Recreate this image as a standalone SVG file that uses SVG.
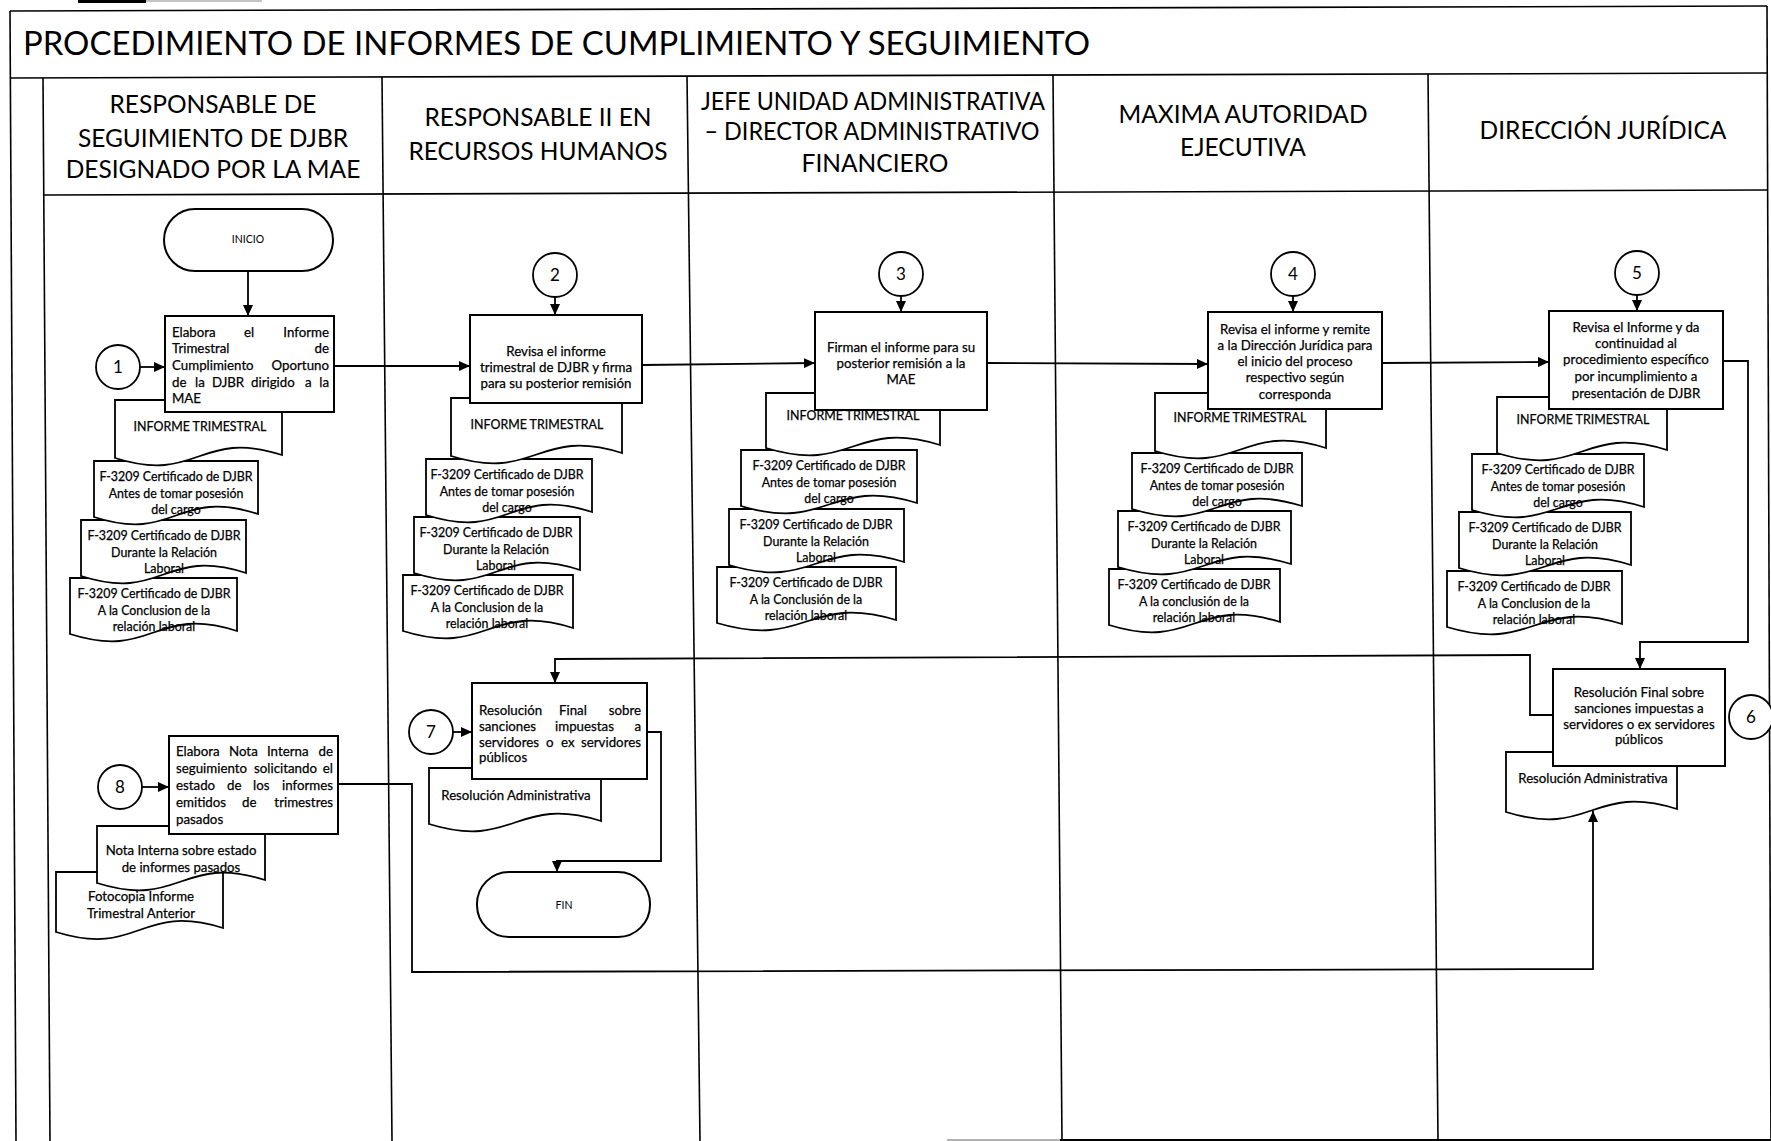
<svg xmlns="http://www.w3.org/2000/svg" width="1771" height="1141" viewBox="0 0 1771 1141">
<defs>
<marker id="ah" markerUnits="userSpaceOnUse" markerWidth="11" markerHeight="10" refX="11" refY="5" orient="auto">
<path d="M0,0 L11,5 L0,10 Z" fill="#000"/>
</marker>
</defs>
<style>
.t{font-family:Lato,"Liberation Sans",sans-serif;fill:#000}
.s{font-size:12.4px;stroke:#000;stroke-width:0.25}
.b{font-size:13.3px;stroke:#000;stroke-width:0.25}
.d{font-size:13.2px;stroke:#000;stroke-width:0.25}
.m{text-anchor:middle}
.e{text-anchor:end}
.hd{font-size:24.5px;text-anchor:middle}
.num{font-size:17px;text-anchor:middle}
.box{fill:#fff;stroke:#000;stroke-width:2}
.doc{fill:#fff;stroke:#000;stroke-width:1.8}
.circ{fill:#fff;stroke:#000;stroke-width:1.8}
.lane{stroke:#000;stroke-width:1.6;fill:none}
.con{fill:none;stroke:#000;stroke-width:1.8;marker-end:url(#ah)}
</style>
<rect width="1771" height="1141" fill="#fff"/>

<!-- frame, title row, lane headers and lane dividers -->
<g id="frame">
<line x1="78" y1="1.5" x2="146" y2="1.5" stroke="#000" stroke-width="3"/>
<line x1="146" y1="1" x2="262" y2="1" stroke="#888" stroke-width="1"/>
<line class="lane" x1="10" y1="11" x2="1767" y2="6"/>
<line class="lane" x1="10" y1="78" x2="1767" y2="73"/>
<line class="lane" x1="44" y1="195" x2="1767" y2="190"/>
<line class="lane" x1="10" y1="11" x2="16" y2="1141"/>
<line class="lane" x1="1767" y1="6" x2="1771" y2="1141"/>
<line class="lane" x1="43" y1="78" x2="50" y2="1141"/>
<line class="lane" x1="382" y1="77" x2="392" y2="1141"/>
<line class="lane" x1="687" y1="76" x2="700" y2="1141"/>
<line class="lane" x1="1053" y1="75" x2="1062" y2="1141"/>
<line class="lane" x1="1428" y1="74" x2="1438" y2="1141"/>
<line x1="947" y1="1140" x2="1060" y2="1140" stroke="#999" stroke-width="1.5"/>
<line x1="1060" y1="1140" x2="1771" y2="1140" stroke="#000" stroke-width="2"/>
<text class="t" x="23" y="55" font-size="32" textLength="1067" lengthAdjust="spacingAndGlyphs">PROCEDIMIENTO DE INFORMES DE CUMPLIMIENTO Y SEGUIMIENTO</text>
<text class="t hd" x="213" y="113">RESPONSABLE DE</text>
<text class="t hd" x="213" y="147">SEGUIMIENTO DE DJBR</text>
<text class="t hd" x="213" y="178">DESIGNADO POR LA MAE</text>
<text class="t hd" x="538" y="126">RESPONSABLE II EN</text>
<text class="t hd" x="538" y="160">RECURSOS HUMANOS</text>
<text class="t hd" x="873" y="110" textLength="344" lengthAdjust="spacingAndGlyphs">JEFE UNIDAD ADMINISTRATIVA</text>
<text class="t hd" x="872" y="140" textLength="335" lengthAdjust="spacingAndGlyphs">– DIRECTOR ADMINISTRATIVO</text>
<text class="t hd" x="875" y="172">FINANCIERO</text>
<text class="t hd" x="1243" y="123">MAXIMA AUTORIDAD</text>
<text class="t hd" x="1243" y="156">EJECUTIVA</text>
<text class="t hd" x="1603" y="139">DIRECCIÓN JURÍDICA</text>
</g>

<!-- lane 1 -->
<g id="inicio">
<rect class="box" x="164" y="209" width="169" height="62" rx="31"/>
<text class="t m" x="248" y="243" font-size="10.5">INICIO</text>
</g>
<g id="c1"><circle class="circ" cx="118" cy="367" r="22"/><text class="t num" x="118" y="373">1</text></g>
<g id="doc-1c">
<path class="doc" d="M70,578 H237 V631 C153.5,604.5 153.5,660.5 70,634 Z"/>
<text class="t s m" x="154" y="598">F-3209 Certificado de DJBR</text>
<text class="t s m" x="154" y="615">A la Conclusion de la</text>
<text class="t s m" x="154" y="631">relación laboral</text>
</g>
<g id="doc-1b">
<path class="doc" d="M81,520 H246 V573 C163.5,546.5 163.5,602.5 81,576 Z"/>
<text class="t s m" x="164" y="540">F-3209 Certificado de DJBR</text>
<text class="t s m" x="164" y="557">Durante la Relación</text>
<text class="t s m" x="164" y="573">Laboral</text>
</g>
<g id="doc-1a">
<path class="doc" d="M94,461 H258 V514 C176,487.5 176,543.5 94,517 Z"/>
<text class="t s m" x="176" y="481">F-3209 Certificado de DJBR</text>
<text class="t s m" x="176" y="498">Antes de tomar posesión</text>
<text class="t s m" x="176" y="514">del cargo</text>
</g>
<g id="doc-1">
<path class="doc" d="M115,400 H282 V455 C198.5,428.5 198.5,484.5 115,458 Z"/>
<text class="t s m" x="200" y="431">INFORME TRIMESTRAL</text>
</g>
<g id="p1">
<rect class="box" x="165" y="316" width="169" height="96"/>
<text class="t b" x="172" y="337">Elabora</text><text class="t b m" x="249" y="337">el</text><text class="t b e" x="329" y="337">Informe</text>
<text class="t b" x="172" y="353">Trimestral</text><text class="t b e" x="329" y="353">de</text>
<text class="t b" x="172" y="370">Cumplimiento</text><text class="t b e" x="329" y="370">Oportuno</text>
<text class="t b" x="172" y="387">de</text><text class="t b" x="195" y="387">la</text><text class="t b" x="212" y="387">DJBR</text><text class="t b" x="251" y="387">dirigido</text><text class="t b" x="305" y="387">a</text><text class="t b e" x="329" y="387">la</text>
<text class="t b" x="172" y="403">MAE</text>
</g>
<g id="c8"><circle class="circ" cx="120" cy="787" r="22"/><text class="t num" x="120" y="793">8</text></g>
<g id="doc-8b">
<path class="doc" d="M56,872 H223 V928 C139.5,902 139.5,958 56,932 Z"/>
<text class="t d m" x="141" y="901">Fotocopia Informe</text>
<text class="t d m" x="141" y="918">Trimestral Anterior</text>
</g>
<g id="doc-8a">
<path class="doc" d="M97,826 H265 V880 C181,853.5 181,909.5 97,883 Z"/>
<text class="t d m" x="181" y="855">Nota Interna sobre estado</text>
<text class="t d m" x="181" y="872">de informes pasados</text>
</g>
<g id="p8">
<rect class="box" x="169" y="736" width="169" height="98"/>
<text class="t b" x="176" y="756">Elabora</text><text class="t b" x="229" y="756">Nota</text><text class="t b" x="267" y="756">Interna</text><text class="t b e" x="333" y="756">de</text>
<text class="t b" x="176" y="773">seguimiento</text><text class="t b" x="254" y="773">solicitando</text><text class="t b e" x="333" y="773">el</text>
<text class="t b" x="176" y="790">estado</text><text class="t b" x="227" y="790">de</text><text class="t b" x="253" y="790">los</text><text class="t b e" x="333" y="790">informes</text>
<text class="t b" x="176" y="807">emitidos</text><text class="t b" x="242" y="807">de</text><text class="t b e" x="333" y="807">trimestres</text>
<text class="t b" x="176" y="824">pasados</text>
</g>

<!-- lane 2 -->
<g id="c2"><circle class="circ" cx="555" cy="275" r="22"/><text class="t num" x="555" y="281">2</text></g>
<g id="doc-2c">
<path class="doc" d="M403,575 H573 V628 C488,601.5 488,657.5 403,631 Z"/>
<text class="t s m" x="487" y="595">F-3209 Certificado de DJBR</text>
<text class="t s m" x="487" y="612">A la Conclusion de la</text>
<text class="t s m" x="487" y="628">relación laboral</text>
</g>
<g id="doc-2b">
<path class="doc" d="M414,517 H580 V570 C497,543.5 497,599.5 414,573 Z"/>
<text class="t s m" x="496" y="537">F-3209 Certificado de DJBR</text>
<text class="t s m" x="496" y="554">Durante la Relación</text>
<text class="t s m" x="496" y="570">Laboral</text>
</g>
<g id="doc-2a">
<path class="doc" d="M426,459 H592 V512 C509,485.5 509,541.5 426,515 Z"/>
<text class="t s m" x="507" y="479">F-3209 Certificado de DJBR</text>
<text class="t s m" x="507" y="496">Antes de tomar posesión</text>
<text class="t s m" x="507" y="512">del cargo</text>
</g>
<g id="doc-2">
<path class="doc" d="M451,398 H622 V453 C536.5,426.5 536.5,482.5 451,456 Z"/>
<text class="t s m" x="537" y="429">INFORME TRIMESTRAL</text>
</g>
<g id="p2">
<rect class="box" x="470" y="315" width="172" height="88"/>
<text class="t b m" x="556" y="356">Revisa el informe</text>
<text class="t b m" x="556" y="372">trimestral de DJBR y firma</text>
<text class="t b m" x="556" y="388">para su posterior remisión</text>
</g>
<g id="c7"><circle class="circ" cx="431" cy="732" r="22"/><text class="t num" x="431" y="738">7</text></g>
<g id="doc-7">
<path class="doc" d="M429,768 H601 V821 C515,794.5 515,850.5 429,824 Z"/>
<text class="t d m" x="516" y="800">Resolución Administrativa</text>
</g>
<g id="p7">
<rect class="box" x="472" y="683" width="175" height="96"/>
<text class="t b" x="479" y="715">Resolución</text><text class="t b" x="559" y="715">Final</text><text class="t b e" x="641" y="715">sobre</text>
<text class="t b" x="479" y="731">sanciones</text><text class="t b" x="555" y="731">impuestas</text><text class="t b e" x="641" y="731">a</text>
<text class="t b" x="479" y="747">servidores</text><text class="t b" x="546" y="747">o</text><text class="t b" x="561" y="747">ex</text><text class="t b e" x="641" y="747">servidores</text>
<text class="t b" x="479" y="762">públicos</text>
</g>
<g id="fin">
<rect class="box" x="477" y="872" width="173" height="65" rx="32"/>
<text class="t m" x="564" y="909" font-size="10.5">FIN</text>
</g>

<!-- lane 3 -->
<g id="c3"><circle class="circ" cx="901" cy="274" r="22"/><text class="t num" x="901" y="280">3</text></g>
<g id="doc-3c">
<path class="doc" d="M717,567 H896 V620 C806.5,593.5 806.5,649.5 717,623 Z"/>
<text class="t s m" x="806" y="587">F-3209 Certificado de DJBR</text>
<text class="t s m" x="806" y="604">A la Conclusión de la</text>
<text class="t s m" x="806" y="620">relación laboral</text>
</g>
<g id="doc-3b">
<path class="doc" d="M729,509 H904 V562 C816.5,535.5 816.5,591.5 729,565 Z"/>
<text class="t s m" x="816" y="529">F-3209 Certificado de DJBR</text>
<text class="t s m" x="816" y="546">Durante la Relación</text>
<text class="t s m" x="816" y="562">Laboral</text>
</g>
<g id="doc-3a">
<path class="doc" d="M741,450 H917 V503 C829,476.5 829,532.5 741,506 Z"/>
<text class="t s m" x="829" y="470">F-3209 Certificado de DJBR</text>
<text class="t s m" x="829" y="487">Antes de tomar posesión</text>
<text class="t s m" x="829" y="503">del cargo</text>
</g>
<g id="doc-3">
<path class="doc" d="M766,393 H940 V445 C853,418.5 853,474.5 766,448 Z"/>
<text class="t s m" x="853" y="420">INFORME TRIMESTRAL</text>
</g>
<g id="p3">
<rect class="box" x="815" y="312" width="172" height="98"/>
<text class="t b m" x="901" y="352">Firman el informe para su</text>
<text class="t b m" x="901" y="368">posterior remisión a la</text>
<text class="t b m" x="901" y="384">MAE</text>
</g>

<!-- lane 4 -->
<g id="c4"><circle class="circ" cx="1293" cy="274" r="22"/><text class="t num" x="1293" y="280">4</text></g>
<g id="doc-4c">
<path class="doc" d="M1109,569 H1280 V622 C1194.5,595.5 1194.5,651.5 1109,625 Z"/>
<text class="t s m" x="1194" y="589">F-3209 Certificado de DJBR</text>
<text class="t s m" x="1194" y="606">A la conclusión de la</text>
<text class="t s m" x="1194" y="622">relación laboral</text>
</g>
<g id="doc-4b">
<path class="doc" d="M1118,511 H1291 V564 C1204.5,537.5 1204.5,593.5 1118,567 Z"/>
<text class="t s m" x="1204" y="531">F-3209 Certificado de DJBR</text>
<text class="t s m" x="1204" y="548">Durante la Relación</text>
<text class="t s m" x="1204" y="564">Laboral</text>
</g>
<g id="doc-4a">
<path class="doc" d="M1132,453 H1302 V506 C1217,479.5 1217,535.5 1132,509 Z"/>
<text class="t s m" x="1217" y="473">F-3209 Certificado de DJBR</text>
<text class="t s m" x="1217" y="490">Antes de tomar posesión</text>
<text class="t s m" x="1217" y="506">del cargo</text>
</g>
<g id="doc-4">
<path class="doc" d="M1155,393 H1326 V448 C1240.5,421.5 1240.5,477.5 1155,451 Z"/>
<text class="t s m" x="1240" y="422">INFORME TRIMESTRAL</text>
</g>
<g id="p4">
<rect class="box" x="1208" y="312" width="174" height="97"/>
<text class="t b m" x="1295" y="334">Revisa el informe y remite</text>
<text class="t b m" x="1295" y="350">a la Dirección Jurídica para</text>
<text class="t b m" x="1295" y="366">el inicio del proceso</text>
<text class="t b m" x="1295" y="382">respectivo según</text>
<text class="t b m" x="1295" y="399">corresponda</text>
</g>

<!-- lane 5 -->
<g id="c5"><circle class="circ" cx="1637" cy="273" r="22"/><text class="t num" x="1637" y="279">5</text></g>
<g id="doc-5c">
<path class="doc" d="M1447,571 H1622 V624 C1534.5,597.5 1534.5,653.5 1447,627 Z"/>
<text class="t s m" x="1534" y="591">F-3209 Certificado de DJBR</text>
<text class="t s m" x="1534" y="608">A la Conclusion de la</text>
<text class="t s m" x="1534" y="624">relación laboral</text>
</g>
<g id="doc-5b">
<path class="doc" d="M1459,512 H1631 V565 C1545,538.5 1545,594.5 1459,568 Z"/>
<text class="t s m" x="1545" y="532">F-3209 Certificado de DJBR</text>
<text class="t s m" x="1545" y="549">Durante la Relación</text>
<text class="t s m" x="1545" y="565">Laboral</text>
</g>
<g id="doc-5a">
<path class="doc" d="M1472,454 H1644 V507 C1558,480.5 1558,536.5 1472,510 Z"/>
<text class="t s m" x="1558" y="474">F-3209 Certificado de DJBR</text>
<text class="t s m" x="1558" y="491">Antes de tomar posesión</text>
<text class="t s m" x="1558" y="507">del cargo</text>
</g>
<g id="doc-5">
<path class="doc" d="M1497,397 H1667 V450 C1582,423.5 1582,479.5 1497,453 Z"/>
<text class="t s m" x="1583" y="424">INFORME TRIMESTRAL</text>
</g>
<g id="p5">
<rect class="box" x="1549" y="311" width="174" height="98"/>
<text class="t b m" x="1636" y="332">Revisa el Informe y da</text>
<text class="t b m" x="1636" y="348">continuidad al</text>
<text class="t b m" x="1636" y="364">procedimiento específico</text>
<text class="t b m" x="1636" y="381">por incumplimiento a</text>
<text class="t b m" x="1636" y="398">presentación de DJBR</text>
</g>
<g id="doc-6">
<path class="doc" d="M1506,752 H1677 V809 C1591.5,782.5 1591.5,838.5 1506,812 Z"/>
<text class="t d m" x="1593" y="783">Resolución Administrativa</text>
</g>
<g id="p6">
<rect class="box" x="1553" y="669" width="172" height="97"/>
<text class="t b m" x="1639" y="697">Resolución Final sobre</text>
<text class="t b m" x="1639" y="713">sanciones impuestas a</text>
<text class="t b m" x="1639" y="729">servidores o ex servidores</text>
<text class="t b m" x="1639" y="744">públicos</text>
</g>
<g id="c6"><circle class="circ" cx="1751" cy="717" r="22"/><text class="t num" x="1751" y="723">6</text></g>

<!-- connectors -->
<g id="connectors">
<path class="con" d="M248,271 V316"/>
<path class="con" d="M140,367 H165"/>
<path class="con" d="M334,366 H470"/>
<path class="con" d="M555,297 V315"/>
<path class="con" d="M642,365 L815,363"/>
<path class="con" d="M901,296 V312"/>
<path class="con" d="M987,363 L1208,364"/>
<path class="con" d="M1293,296 V312"/>
<path class="con" d="M1382,363 L1549,362"/>
<path class="con" d="M1637,295 V311"/>
<path class="con" d="M1723,361 H1748 V642 H1640 V669"/>
<path class="con" d="M1553,715 H1530 V655 L555,659 V683"/>
<path class="con" d="M453,732 H472"/>
<path class="con" d="M647,732 H661 V861 H557 V872"/>
<path class="con" d="M142,787 H169"/>
<path class="con" d="M338,784 H412 V972 L1593,969 V811"/>
</g>
</svg>
